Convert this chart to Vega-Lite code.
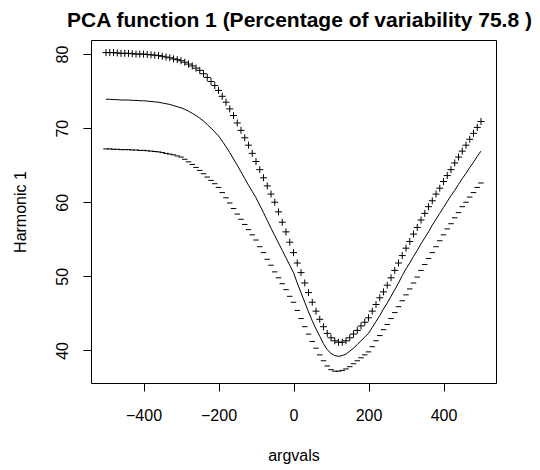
{
  "$schema": "https://vega.github.io/schema/vega-lite/v6.json",
  "autosize": "none",
  "width": 405,
  "height": 343,
  "padding": {"left": 91, "top": 40, "right": 44, "bottom": 87},
  "background": "white",
  "title": {"text": "PCA function 1 (Percentage of variability 75.8 )", "font": "Liberation Sans", "fontSize": 21, "fontWeight": "bold", "color": "black", "anchor": "middle", "baseline": "alphabetic", "offset": 12, "dy": 20, "dx": 6},
  "config": {
    "view": {"stroke": "black", "strokeWidth": 1},
    "axis": {"domain": false, "grid": false, "tickColor": "black", "tickSize": 8, "labelColor": "black", "labelFont": "Liberation Sans", "labelFontSize": 16, "titleFont": "Liberation Sans", "titleFontSize": 16, "titleFontWeight": "normal", "titleColor": "black"}
  },
  "data": {"values": [
    {"x":-500,"p":80.2,"m":73.9,"n":67.2},
    {"x":-490,"p":80.2,"m":73.9,"n":67.2},
    {"x":-480,"p":80.2,"m":73.85,"n":67.15},
    {"x":-470,"p":80.15,"m":73.85,"n":67.15},
    {"x":-460,"p":80.1,"m":73.8,"n":67.1},
    {"x":-450,"p":80.1,"m":73.8,"n":67.1},
    {"x":-440,"p":80.1,"m":73.8,"n":67.1},
    {"x":-430,"p":80.05,"m":73.75,"n":67.05},
    {"x":-420,"p":80.0,"m":73.75,"n":67.05},
    {"x":-410,"p":80.0,"m":73.7,"n":67.0},
    {"x":-400,"p":80.0,"m":73.7,"n":67.0},
    {"x":-390,"p":79.95,"m":73.65,"n":66.95},
    {"x":-380,"p":79.9,"m":73.6,"n":66.9},
    {"x":-370,"p":79.85,"m":73.55,"n":66.85},
    {"x":-360,"p":79.8,"m":73.5,"n":66.8},
    {"x":-350,"p":79.7,"m":73.4,"n":66.7},
    {"x":-340,"p":79.6,"m":73.3,"n":66.6},
    {"x":-330,"p":79.5,"m":73.2,"n":66.5},
    {"x":-320,"p":79.35,"m":73.05,"n":66.4},
    {"x":-310,"p":79.25,"m":72.9,"n":66.25},
    {"x":-300,"p":79.1,"m":72.75,"n":66.1},
    {"x":-290,"p":78.9,"m":72.55,"n":65.8},
    {"x":-280,"p":78.65,"m":72.3,"n":65.45},
    {"x":-270,"p":78.4,"m":72.0,"n":65.1},
    {"x":-260,"p":78.1,"m":71.7,"n":64.7},
    {"x":-250,"p":77.8,"m":71.35,"n":64.3},
    {"x":-240,"p":77.35,"m":70.95,"n":63.85},
    {"x":-230,"p":76.85,"m":70.5,"n":63.4},
    {"x":-220,"p":76.3,"m":70.0,"n":62.95},
    {"x":-210,"p":75.75,"m":69.5,"n":62.5},
    {"x":-200,"p":75.1,"m":68.95,"n":62.0},
    {"x":-190,"p":74.3,"m":68.25,"n":61.3},
    {"x":-180,"p":73.5,"m":67.5,"n":60.6},
    {"x":-170,"p":72.6,"m":66.7,"n":59.9},
    {"x":-160,"p":71.7,"m":65.85,"n":59.15},
    {"x":-150,"p":70.7,"m":65.0,"n":58.4},
    {"x":-140,"p":69.7,"m":64.1,"n":57.7},
    {"x":-130,"p":68.7,"m":63.2,"n":57.0},
    {"x":-120,"p":67.7,"m":62.3,"n":56.3},
    {"x":-110,"p":66.6,"m":61.45,"n":55.6},
    {"x":-100,"p":65.5,"m":60.6,"n":54.9},
    {"x":-90,"p":64.4,"m":59.6,"n":54.0},
    {"x":-80,"p":63.3,"m":58.6,"n":53.2},
    {"x":-70,"p":62.2,"m":57.55,"n":52.3},
    {"x":-60,"p":61.1,"m":56.5,"n":51.5},
    {"x":-50,"p":60.0,"m":55.5,"n":50.6},
    {"x":-40,"p":58.7,"m":54.5,"n":49.8},
    {"x":-30,"p":57.3,"m":53.5,"n":49.0},
    {"x":-20,"p":56.0,"m":52.5,"n":48.2},
    {"x":-10,"p":54.6,"m":51.5,"n":47.3},
    {"x":0,"p":53.2,"m":50.5,"n":46.5},
    {"x":10,"p":51.8,"m":49.1,"n":45.4},
    {"x":20,"p":50.5,"m":47.8,"n":44.3},
    {"x":30,"p":49.1,"m":46.5,"n":43.2},
    {"x":40,"p":47.8,"m":45.2,"n":42.2},
    {"x":50,"p":46.5,"m":44.0,"n":41.2},
    {"x":60,"p":45.3,"m":42.9,"n":40.3},
    {"x":70,"p":44.2,"m":41.9,"n":39.4},
    {"x":80,"p":43.2,"m":40.9,"n":38.6},
    {"x":90,"p":42.3,"m":40.1,"n":37.9},
    {"x":100,"p":41.7,"m":39.6,"n":37.4},
    {"x":110,"p":41.3,"m":39.3,"n":37.2},
    {"x":120,"p":41.1,"m":39.2,"n":37.2},
    {"x":130,"p":41.1,"m":39.3,"n":37.3},
    {"x":140,"p":41.3,"m":39.5,"n":37.5},
    {"x":150,"p":41.7,"m":39.9,"n":37.8},
    {"x":160,"p":42.2,"m":40.3,"n":38.2},
    {"x":170,"p":42.7,"m":40.8,"n":38.6},
    {"x":180,"p":43.3,"m":41.3,"n":39.0},
    {"x":190,"p":43.8,"m":41.8,"n":39.4},
    {"x":200,"p":44.4,"m":42.3,"n":39.8},
    {"x":210,"p":45.3,"m":43.1,"n":40.5},
    {"x":220,"p":46.2,"m":43.9,"n":41.3},
    {"x":230,"p":47.1,"m":44.7,"n":42.0},
    {"x":240,"p":47.9,"m":45.6,"n":42.8},
    {"x":250,"p":48.8,"m":46.4,"n":43.5},
    {"x":260,"p":49.8,"m":47.3,"n":44.3},
    {"x":270,"p":50.8,"m":48.2,"n":45.1},
    {"x":280,"p":51.8,"m":49.1,"n":45.9},
    {"x":290,"p":52.8,"m":50.1,"n":46.7},
    {"x":300,"p":53.8,"m":51.0,"n":47.5},
    {"x":310,"p":54.7,"m":51.8,"n":48.3},
    {"x":320,"p":55.7,"m":52.7,"n":49.1},
    {"x":330,"p":56.6,"m":53.5,"n":49.9},
    {"x":340,"p":57.6,"m":54.4,"n":50.8},
    {"x":350,"p":58.5,"m":55.2,"n":51.6},
    {"x":360,"p":59.4,"m":56.0,"n":52.4},
    {"x":370,"p":60.2,"m":56.9,"n":53.2},
    {"x":380,"p":61.1,"m":57.7,"n":54.0},
    {"x":390,"p":61.9,"m":58.5,"n":54.8},
    {"x":400,"p":62.8,"m":59.3,"n":55.6},
    {"x":410,"p":63.6,"m":60.1,"n":56.4},
    {"x":420,"p":64.4,"m":60.9,"n":57.1},
    {"x":430,"p":65.3,"m":61.6,"n":57.9},
    {"x":440,"p":66.1,"m":62.4,"n":58.6},
    {"x":450,"p":66.9,"m":63.2,"n":59.4},
    {"x":460,"p":67.7,"m":63.9,"n":60.0},
    {"x":470,"p":68.5,"m":64.7,"n":60.7},
    {"x":480,"p":69.3,"m":65.4,"n":61.3},
    {"x":490,"p":70.1,"m":66.2,"n":62.0},
    {"x":500,"p":70.9,"m":66.9,"n":62.6}
  ]},
  "encoding": {
    "x": {"field": "x", "type": "quantitative", "scale": {"domain": [-540, 540], "nice": false, "zero": false},
          "axis": {"title": "argvals", "values": [-400, -200, 0, 200, 400], "labelPadding": 16, "titlePadding": 24}}
  },
  "layer": [
    {"mark": {"type": "line", "color": "black", "strokeWidth": 1},
     "encoding": {"y": {"field": "m", "type": "quantitative", "scale": {"domain": [35.6, 81.9], "nice": false, "zero": false},
        "axis": {"title": "Harmonic 1", "values": [40, 50, 60, 70, 80], "labelAngle": 270, "labelAlign": "center", "labelBaseline": "bottom", "labelPadding": 13, "titlePadding": 26}}}},
    {"mark": {"type": "point", "shape": "M-1,0L1,0M0,-1L0,1", "size": 49, "filled": false, "stroke": "black", "strokeWidth": 1, "opacity": 1},
     "encoding": {"y": {"field": "p", "type": "quantitative", "title": "Harmonic 1"}}},
    {"mark": {"type": "point", "shape": "M-1,0L1,0", "size": 30, "filled": false, "stroke": "black", "strokeWidth": 1, "opacity": 1},
     "encoding": {"y": {"field": "n", "type": "quantitative", "title": "Harmonic 1"}}}
  ]
}
